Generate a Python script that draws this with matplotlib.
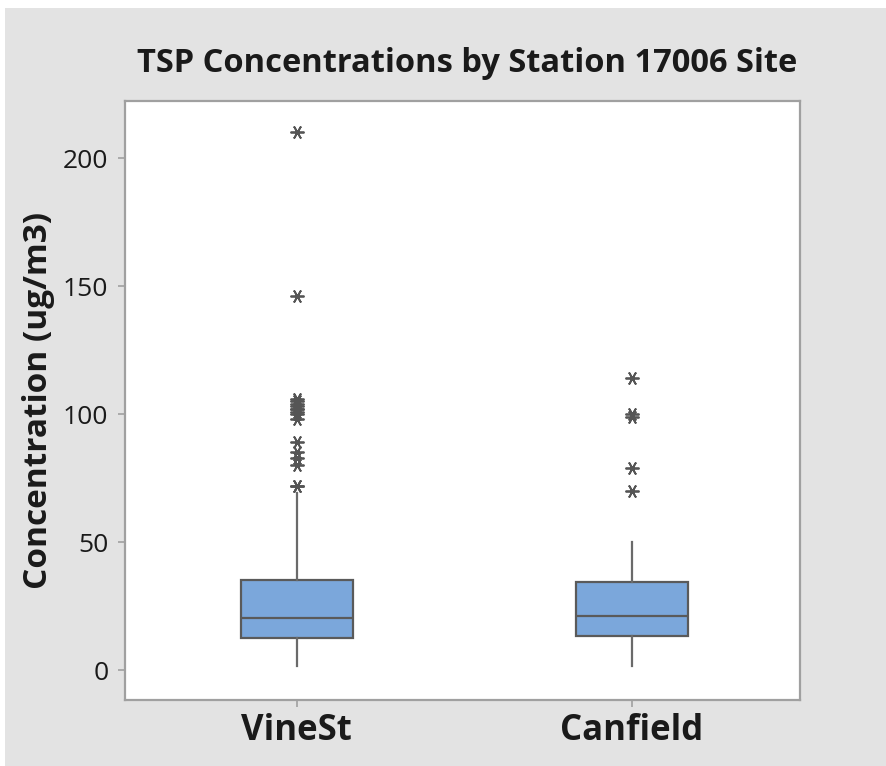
import matplotlib
matplotlib.use("Agg")
import matplotlib.pyplot as plt
from matplotlib.patches import Rectangle

sites = ["VineSt", "Canfield"]
q1 = [12.5, 13.3]
median = [20.2, 21.0]
q3 = [35.0, 34.3]
whislo = [1.5, 1.5]
whishi = [69.0, 50.0]
outliers_vinest = [210, 146, 106, 105, 104, 103, 102, 102, 101, 100, 98, 89, 85, 83, 80, 72, 72]
outliers_canfield = [114, 100, 99, 79, 70]
yticks = [0, 50, 100, 150, 200]

title = "TSP Concentrations by Station 17006 Site"
ylabel = "Concentration (ug/m3)"

FONT = "Open Sans"
W, H = 886, 766
fig = plt.figure(figsize=(W / 100, H / 100), dpi=100, facecolor="white")
fig.patches.append(Rectangle((5 / W, 0), 1, 1 - 8 / H, transform=fig.transFigure,
                             facecolor="#e3e3e3", edgecolor="none", zorder=-10))

ax = fig.add_axes([125 / W, 1 - 700 / H, 675 / W, 599 / H])
ax.set_facecolor("white")

stats = []
for i, name in enumerate(sites):
    stats.append(dict(label=name, q1=q1[i], med=median[i], q3=q3[i],
                      whislo=whislo[i], whishi=whishi[i],
                      fliers=[outliers_vinest, outliers_canfield][i]))

bp = ax.bxp(stats, positions=[1, 2], widths=0.334, patch_artist=True, showcaps=False,
            boxprops=dict(facecolor="#7ba7db", edgecolor="#5a5a5a", linewidth=1.6),
            medianprops=dict(color="#5a5a5a", linewidth=1.6),
            whiskerprops=dict(color="#6a6a6a", linewidth=1.6),
            flierprops=dict(marker=(6, 2, 90), markersize=10, markeredgecolor="#555555",
                            markerfacecolor="#555555", markeredgewidth=1.3, linestyle="none"))

ax.set_xlim(0.487, 2.502)
ax.set_ylim(-11.7, 222.3)
ax.set_yticks(yticks)
ax.set_yticklabels([str(v) for v in yticks], fontsize=19, family=FONT, color="#1a1a1a")
ax.set_xticks([1, 2])
ax.set_xticklabels(sites, fontsize=25, family=FONT, fontweight="bold", color="#1a1a1a")
ax.tick_params(axis="both", direction="out", color="#a0a0a0", length=5, width=1.2)
ax.tick_params(axis="y", pad=7)
ax.tick_params(axis="x", pad=4)
for s in ax.spines.values():
    s.set_color("#a0a0a0")
    s.set_linewidth(1.6)

ax.set_ylabel(ylabel, fontsize=24, family=FONT, fontweight="bold", color="#1a1a1a", labelpad=6)
fig.text(467 / W, 1 - 63 / H, title, ha="center", va="center", fontsize=23.5,
         family=FONT, fontweight="bold", color="#1a1a1a")

fig.savefig("out.png", dpi=100, facecolor=fig.get_facecolor())
